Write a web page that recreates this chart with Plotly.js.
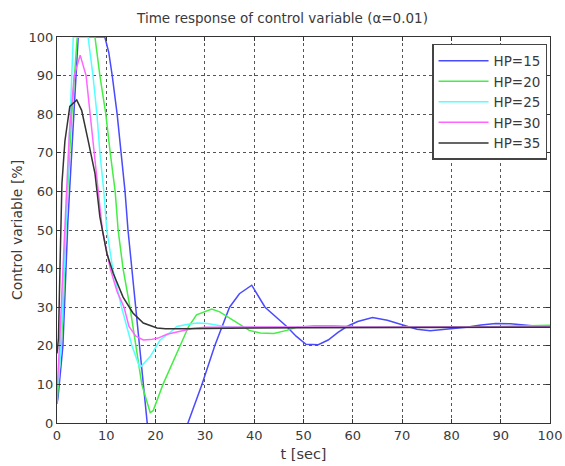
<!DOCTYPE html>
<html>
<head>
<meta charset="utf-8">
<script src="https://cdn.plot.ly/plotly-3.0.1.min.js"></script>
<style>html,body{margin:0;padding:0;background:#fff}#chart{width:565px;height:466px}</style>
</head>
<body>
<div id="chart"></div>
<script>
// Data
const seriesNames = ["HP=15", "HP=20", "HP=25", "HP=30", "HP=35"];

const t15 = [0, 0.2, 1.2, 2.2, 3.2, 4.3, 9.7, 10.5, 11.2, 12.2, 13, 13.8, 14.4, 16.4, 18.3, 20, 22, 24, 26.6, 29.4, 32, 35, 37, 39.5, 42.2, 44.5, 46.6, 48.5, 50.5, 53, 55, 57, 58.8, 61, 64, 67, 69, 71, 73, 75.7, 78, 80, 83, 86, 89, 92, 95, 98, 100];
const v15 = [5, 6.5, 20, 52, 75, 100, 100, 96, 90, 80, 70, 60, 50, 25, 0, -8, -12, -9, 0, 10, 20, 30, 33.5, 35.7, 30, 27.5, 25, 22.5, 20.4, 20.3, 21.5, 23.5, 25, 26.3, 27.3, 26.6, 25.8, 25, 24.3, 23.9, 24.2, 24.5, 24.8, 25.4, 25.8, 25.7, 25.3, 25, 24.9];

const t20 = [0, 0.3, 1.2, 1.8, 3, 4.1, 7.7, 8.7, 9.9, 10.8, 11.8, 12.4, 13.4, 14.8, 16, 17.2, 18.9, 19.5, 21.5, 25, 26.7, 28.3, 31.4, 33, 35, 37, 39, 41.2, 44, 46.6, 48.5, 52, 56, 60, 70, 80, 90, 100];
const v20 = [5, 10, 27, 52, 80, 100, 100, 90, 80, 70, 60, 50, 40, 30, 20, 10, 2.7, 3.2, 10, 20, 25, 28, 29.5, 28.8, 27.2, 25.4, 24, 23.3, 23.2, 24, 24.8, 25.2, 25.2, 25, 24.9, 24.8, 25, 25.3];

const t25 = [0, 0.6, 1.6, 2.5, 3.3, 6.3, 7.3, 8.1, 8.7, 9.5, 10.1, 11.3, 13.1, 15.2, 16.8, 18.9, 20.9, 23, 24.3, 26.3, 28.4, 30.5, 32.4, 34, 36, 40, 50, 60, 70, 80, 90, 100];
const v25 = [8, 15.5, 44, 75, 100, 100, 90, 80, 70, 60, 50, 40, 30, 20, 14.3, 17.2, 21.5, 23.5, 25, 25.5, 25.9, 25.8, 25.4, 25, 24.8, 24.8, 24.8, 24.8, 24.8, 24.8, 24.8, 24.8];

const t30 = [0, 0.5, 1.5, 2.5, 3.5, 4.7, 5.9, 6.7, 7.5, 8.4, 9.2, 10.8, 12.2, 13.6, 14.6, 16, 17.5, 19, 20.5, 22.3, 25.6, 27.5, 30, 40, 50, 60, 70, 80, 90, 100];
const v30 = [8, 20, 48, 75, 90, 95.3, 90, 80, 70, 60, 50, 40, 34, 30, 25, 22.5, 21.5, 21.6, 22, 23, 23.9, 24.5, 24.8, 24.9, 24.9, 24.9, 24.9, 24.9, 24.9, 24.9];

const t35 = [0, 0.3, 0.6, 1, 1.6, 2.6, 4, 5, 6.3, 7.7, 8.7, 10.1, 11.4, 13.4, 15.4, 17.5, 20.3, 22, 25, 30, 40, 50, 60, 70, 80, 90, 100];
const v35 = [18, 22, 40, 62, 73, 82, 83.7, 81, 73.3, 64.7, 53.4, 44, 38.8, 32.6, 28.5, 25.9, 24.6, 24.4, 24.4, 24.5, 24.6, 24.7, 24.7, 24.7, 24.7, 24.7, 24.8];

const xTicks = [0, 10, 20, 30, 40, 50, 60, 70, 80, 90, 100];
const yTicks = [0, 10, 20, 30, 40, 50, 60, 70, 80, 90, 100];

const tArr = [t15, t20, t25, t30, t35];
const vArr = [v15, v20, v25, v30, v35];
const colors = ["#4a4aff", "#44ee44", "#55ffff", "#ff66ff", "#333333"];

const traces = seriesNames.map((n, i) => ({
  x: tArr[i], y: vArr[i], name: n, type: "scatter", mode: "lines",
  line: {color: colors[i], width: 1.5}
}));

const font = "'DejaVu Sans', Verdana, sans-serif";
const txt = "#3a3a3a";
const axisCommon = {
  showline: true, linecolor: "#333", linewidth: 1, mirror: "ticks",
  ticks: "inside", ticklen: 4, tickcolor: "#333",
  showgrid: true, gridcolor: "#555", griddash: "dot", gridwidth: 1,
  zeroline: false, tickfont: {family: font, size: 13, color: txt}
};

const layout = {
  width: 565, height: 466,
  paper_bgcolor: "#fff", plot_bgcolor: "#fff",
  margin: {l: 57, r: 15, t: 37, b: 43},
  title: {text: "Time response of control variable (α=0.01)", x: 0.5, xref: "container", y: 0.96, yanchor: "middle",
          font: {family: font, size: 13.5, color: txt}},
  xaxis: Object.assign({}, axisCommon, {range: [0, 100], tickvals: xTicks, ticktext: xTicks.map(String),
          title: {text: "t [sec]", font: {family: font, size: 14.5, color: txt}, standoff: 7}}),
  yaxis: Object.assign({}, axisCommon, {range: [0, 100], tickvals: yTicks, ticktext: yTicks.map(String),
          title: {text: "Control variable [%]", font: {family: font, size: 14, color: txt}, standoff: 2}}),
  showlegend: true,
  legend: {x: 0.994, xanchor: "right", y: 0.982, yanchor: "top", bgcolor: "#fff",
           bordercolor: "#444", borderwidth: 1.5, font: {family: font, size: 13.5, color: txt},
           itemwidth: 50, tracegroupgap: 0}
};

Plotly.newPlot("chart", traces, layout, {displayModeBar: false, staticPlot: true});
</script>
</body>
</html>
